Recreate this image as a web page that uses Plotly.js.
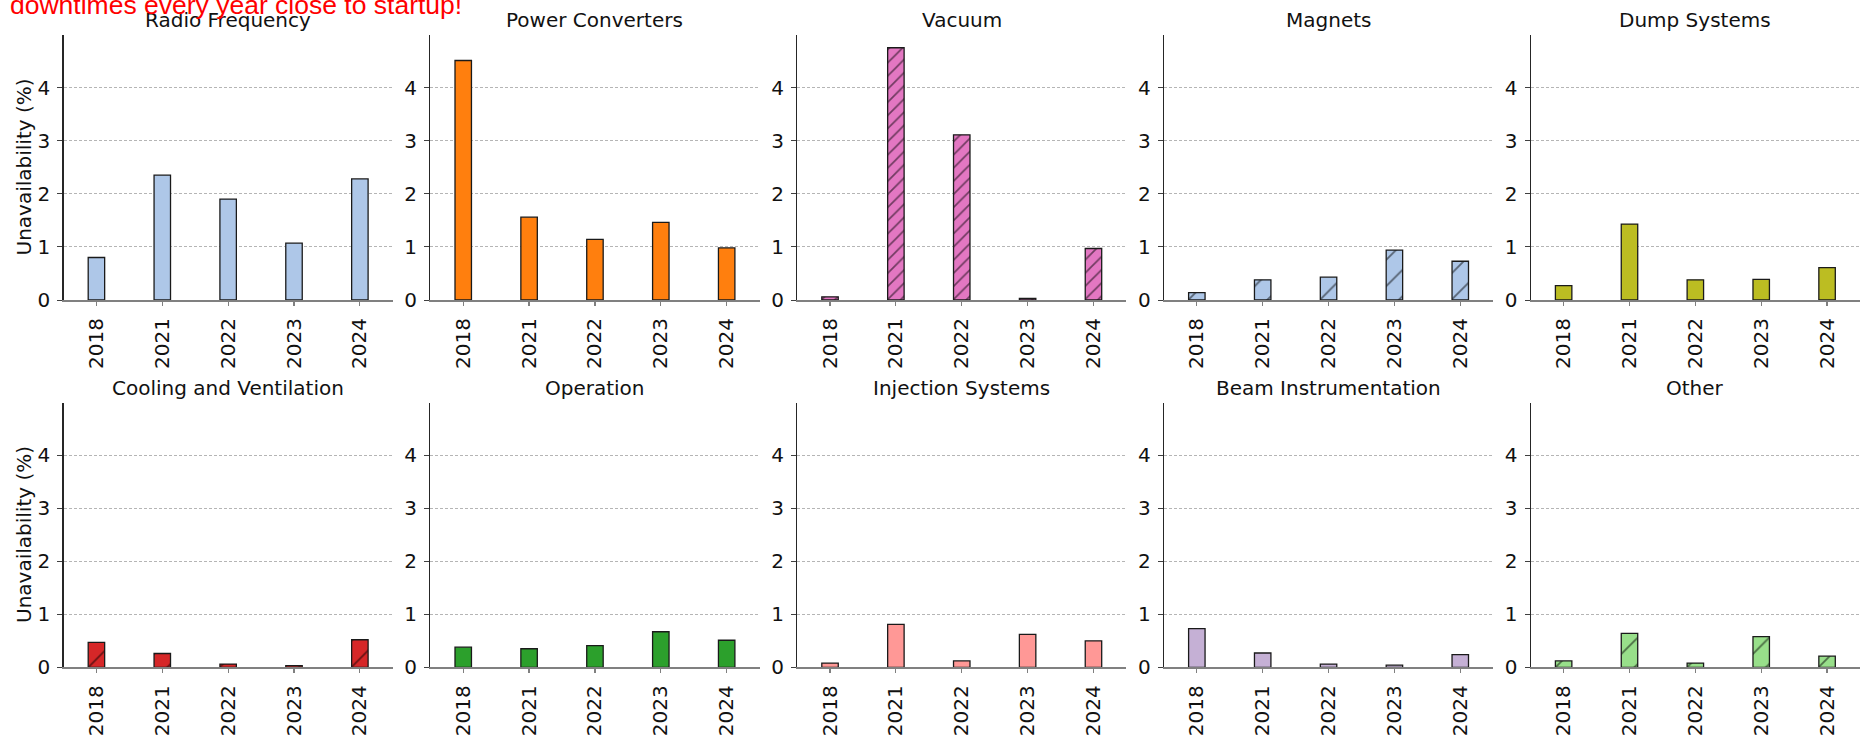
<!DOCTYPE html>
<html>
<head>
<meta charset="utf-8">
<script src="https://cdn.plot.ly/plotly-3.0.1.min.js"></script>
<style>
  html, body { margin: 0; padding: 0; background: #ffffff; }
  #chart { width: 1860px; height: 741px; }
</style>
</head>
<body>
<div id="chart"></div>
<script>
// Yearly unavailability (%) per system
const years = ['2018', '2021', '2022', '2023', '2024'];

const systems = [
  'Radio Frequency', 'Power Converters', 'Vacuum', 'Magnets', 'Dump Systems',
  'Cooling and Ventilation', 'Operation', 'Injection Systems', 'Beam Instrumentation', 'Other'
];

const radioFrequency   = [0.80, 2.35, 1.90, 1.07, 2.28];
const powerConverters  = [4.51, 1.56, 1.14, 1.46, 0.98];
const vacuum           = [0.06, 4.75, 3.11, 0.03, 0.97];
const magnets          = [0.14, 0.38, 0.43, 0.94, 0.73];
const dumpSystems      = [0.27, 1.43, 0.38, 0.39, 0.61];
const coolingVent      = [0.47, 0.26, 0.06, 0.03, 0.52];
const operation        = [0.38, 0.35, 0.41, 0.67, 0.51];
const injectionSystems = [0.08, 0.81, 0.12, 0.62, 0.50];
const beamInstr        = [0.73, 0.27, 0.06, 0.04, 0.24];
const other            = [0.12, 0.64, 0.08, 0.58, 0.21];

const seriesValues = [radioFrequency, powerConverters, vacuum, magnets, dumpSystems,
                      coolingVent, operation, injectionSystems, beamInstr, other];

const colors = ['#aec7e8', '#ff7f0e', '#e377c2', '#aec7e8', '#bcbd22',
                '#d62728', '#2ca02c', '#ff9896', '#c5b0d5', '#98df8a'];

// hatch: '' none, 'dense' = double slash, 'sparse' = single slash
const hatches = ['', '', 'dense', 'sparse', '', 'sparse', '', '', '', 'sparse'];

const yTitle = 'Unavailability (%)';
const note = 'downtimes every year close to startup!';

// ---- layout geometry (pixels) ----
const W = 1860, H = 741;
const colLeft0 = 63.5, colPitch = 366.8, colWidth = 329.3;
const rowTop = [35, 402.7], rowBottom = [300, 667.3];
const yMax = 4.99;

const FONT = 'DejaVu Sans, Verdana, sans-serif';

const traces = [];
const layout = {
  width: W, height: H,
  margin: {l: 0, r: 0, t: 0, b: 0, pad: 0},
  paper_bgcolor: '#ffffff',
  plot_bgcolor: '#ffffff',
  showlegend: false,
  bargap: 0,
  font: {family: FONT, size: 20, color: '#1a1a1a'},
  annotations: []
};

seriesValues.forEach((vals, i) => {
  const row = Math.floor(i / 5), col = i % 5;
  const n = i + 1;
  const xa = n === 1 ? 'x' : 'x' + n;
  const ya = n === 1 ? 'y' : 'y' + n;
  const x0 = colLeft0 + col * colPitch;
  const x1 = x0 + colWidth;

  const marker = {
    color: colors[i],
    line: {color: '#1a1a1a', width: 1.3}
  };
  if (hatches[i]) {
    marker.pattern = {
      shape: '/',
      size: hatches[i] === 'dense' ? 9.3 : 18.6,
      solidity: hatches[i] === 'dense' ? 0.18 : 0.1,
      fgcolor: '#000000',
      bgcolor: colors[i],
      fillmode: 'overlay'
    };
  }

  traces.push({
    type: 'bar',
    x: years,
    y: vals,
    width: 0.25,
    xaxis: xa,
    yaxis: ya,
    marker: marker,
    hoverinfo: 'x+y'
  });

  const xKey = n === 1 ? 'xaxis' : 'xaxis' + n;
  const yKey = n === 1 ? 'yaxis' : 'yaxis' + n;

  layout[xKey] = {
    domain: [x0 / W, x1 / W],
    anchor: ya,
    type: 'category',
    range: [-0.5, 4.5],
    showgrid: false,
    zeroline: false,
    showline: true,
    linecolor: '#808080',
    linewidth: 2,
    ticks: 'outside',
    ticklen: 4,
    tickwidth: 1.2,
    tickcolor: '#808080',
    tickangle: -90,
    ticklabelstandoff: 4,
    tickfont: {family: FONT, size: 20, color: '#111111'},
    fixedrange: true
  };

  layout[yKey] = {
    domain: [(H - rowBottom[row]) / H, (H - rowTop[row]) / H],
    anchor: xa,
    range: [0, yMax],
    tickvals: [0, 1, 2, 3, 4],
    ticktext: ['0', '1', '2', '3', '4'],
    showgrid: true,
    gridcolor: '#b5b5b5',
    gridwidth: 1,
    griddash: '3px,2px',
    zeroline: false,
    showline: true,
    linecolor: '#262626',
    linewidth: 1.2,
    ticks: 'outside',
    ticklen: 5,
    tickwidth: 1,
    tickcolor: '#404040',
    ticklabelstandoff: 3,
    tickfont: {family: FONT, size: 20, color: '#111111'},
    fixedrange: true
  };

  // panel title
  layout.annotations.push({
    text: systems[i],
    xref: 'paper', yref: 'paper',
    x: (x0 + x1) / 2 / W,
    y: 1 - (rowTop[row] - 14.5) / H,
    xanchor: 'center', yanchor: 'middle',
    showarrow: false,
    font: {family: FONT, size: 20, color: '#111111'}
  });

  // y-axis title on first column
  if (col === 0) {
    layout.annotations.push({
      text: yTitle,
      xref: 'paper', yref: 'paper',
      x: 24 / W,
      y: 1 - ((rowTop[row] + rowBottom[row]) / 2) / H,
      xanchor: 'center', yanchor: 'middle',
      textangle: -90,
      showarrow: false,
      font: {family: FONT, size: 20, color: '#111111'}
    });
  }
});

// red note at the top-left corner (partially cut off by the top edge)
layout.annotations.push({
  text: note,
  xref: 'paper', yref: 'paper',
  x: 8 / W,
  y: 1 - 5 / H,
  xanchor: 'left', yanchor: 'middle',
  showarrow: false,
  font: {family: 'Liberation Sans, Arial, sans-serif', size: 26.5, color: '#ff0000'}
});

Plotly.newPlot('chart', traces, layout, {displayModeBar: false, staticPlot: true});
</script>
</body>
</html>
